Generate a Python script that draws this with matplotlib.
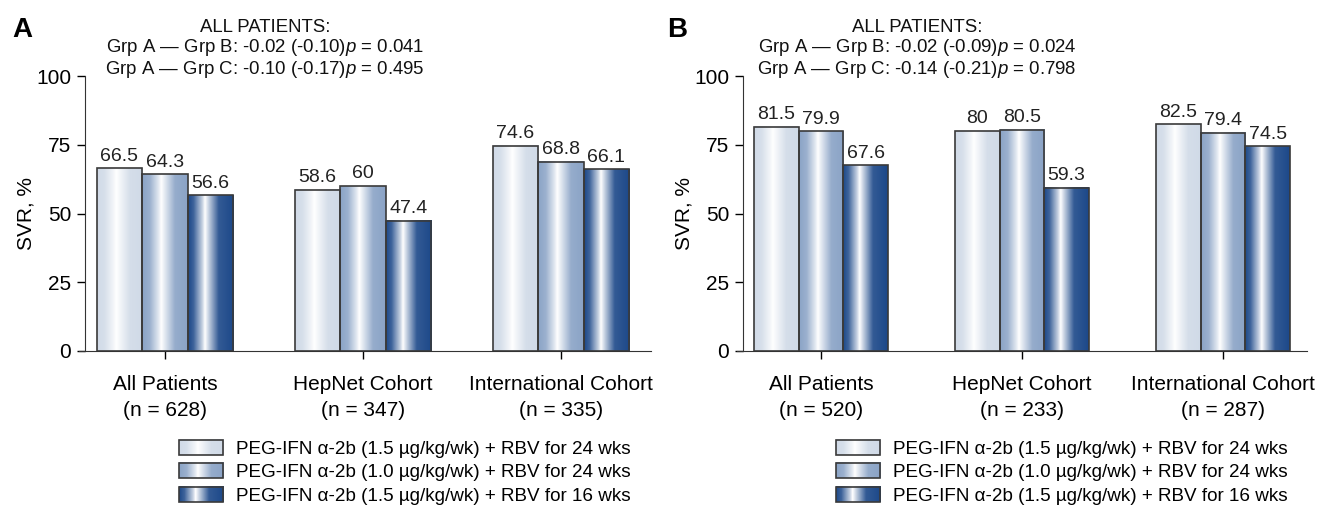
import numpy as np
import matplotlib
matplotlib.use('Agg')
import matplotlib.pyplot as plt
from matplotlib.colors import to_rgb
from matplotlib.legend_handler import HandlerBase
from matplotlib.image import BboxImage
from matplotlib.transforms import Bbox, TransformedBbox
from matplotlib.patches import Rectangle

plt.rcParams['font.family'] = ['Liberation Sans', 'DejaVu Sans']
plt.rcParams['mathtext.fontset'] = 'custom'
plt.rcParams['mathtext.rm'] = 'Liberation Sans'
plt.rcParams['mathtext.it'] = 'Liberation Sans:italic'

# 数据
categories_a = ['All Patients\n(n = 628)', 'HepNet Cohort\n(n = 347)', 'International Cohort\n(n = 335)']
categories_b = ['All Patients\n(n = 520)', 'HepNet Cohort\n(n = 233)', 'International Cohort\n(n = 287)']
grp1_a = [66.5, 58.6, 74.6]
grp2_a = [64.3, 60, 68.8]
grp3_a = [56.6, 47.4, 66.1]
grp1_b = [81.5, 80, 82.5]
grp2_b = [79.9, 80.5, 79.4]
grp3_b = [67.6, 59.3, 74.5]
series_labels = ['PEG-IFN α-2b (1.5 µg/kg/wk) + RBV for 24 wks',
                 'PEG-IFN α-2b (1.0 µg/kg/wk) + RBV for 24 wks',
                 'PEG-IFN α-2b (1.5 µg/kg/wk) + RBV for 16 wks']
notes_a = ['ALL PATIENTS:',
           r'Grp A — Grp B: -0.02 (-0.10)$\it{p}$ = 0.041',
           r'Grp A — Grp C: -0.10 (-0.17)$\it{p}$ = 0.495']
notes_b = ['ALL PATIENTS:',
           r'Grp A — Grp B: -0.02 (-0.09)$\it{p}$ = 0.024',
           r'Grp A — Grp C: -0.14 (-0.21)$\it{p}$ = 0.798']

colors = ['#d0dae7', '#8aa3c6', '#1c4889']
edge = '#3a3a3a'


def gradient(color, peak):
    # 圆柱形高光
    t = np.linspace(0, 1, 200)
    w = np.interp(t, [0, peak - 0.25, peak - 0.06, peak, peak + 0.08, peak + 0.3, 1],
                  [0.0, 0.15, 0.75, 1.0, 0.75, 0.1, 0.0])
    c = np.array(to_rgb(color))
    img = c[None, :] * (1 - w[:, None]) + w[:, None]
    return img[None, :, :]


grads = [gradient(colors[0], 0.42), gradient(colors[1], 0.42), gradient(colors[2], 0.37)]


class GradHandler(HandlerBase):
    def __init__(self, img):
        super().__init__()
        self.img = img

    def create_artists(self, legend, orig_handle, xdescent, ydescent, width, height, fontsize, trans):
        bb = TransformedBbox(Bbox.from_bounds(-xdescent, -ydescent, width, height), trans)
        im = BboxImage(bb, interpolation='bilinear')
        im.set_data(self.img)
        rect = Rectangle((-xdescent, -ydescent), width, height, fill=False, ec=edge, lw=1.2,
                         transform=trans)
        return [im, rect]


fig = plt.figure(figsize=(13.17, 5.07), dpi=100)
W, H = 1317, 507


def panel(left, right, data, cats, notes, letter, letter_x, note_x, leg_x, xl, xr, width):
    ax = fig.add_axes([left / W, 1 - 351 / H, (right - left) / W, (351 - 76) / H])
    x = np.arange(len(cats))
    handles = []
    for i, vals in enumerate(data):
        bars = ax.bar(x + (i - 1) * width, vals, width, facecolor='none', edgecolor=edge,
                      linewidth=1.2, zorder=3)
        for b in bars:
            ax.imshow(grads[i], extent=(b.get_x(), b.get_x() + b.get_width(), 0, b.get_height()),
                      aspect='auto', interpolation='bilinear', zorder=2)
        for xi, v in zip(x + (i - 1) * width, vals):
            ax.text(xi, v + 1.3, '%g' % v, ha='center', va='bottom', fontsize=14, color='#222222')
        handles.append(bars)
    ax.set_xlim(xl, xr)
    ax.set_ylim(0, 100)
    ax.set_yticks([0, 25, 50, 75, 100])
    ax.set_xticks(x)
    ax.set_xticklabels(cats, fontsize=15, linespacing=1.5)
    ax.tick_params(axis='y', labelsize=15, length=6, width=1, direction='out', pad=4)
    ax.tick_params(axis='x', length=6, width=1, direction='out', pad=11)
    for s in ['top', 'right']:
        ax.spines[s].set_visible(False)
    ax.spines['left'].set_color('#333333')
    ax.spines['bottom'].set_color('#333333')
    ax.spines['bottom'].set_bounds(xl - 0.03, xr)
    ax.set_ylabel('SVR, %', fontsize=15, labelpad=0)
    fig.text(letter_x / W, 1 - 30 / H, letter, fontsize=20, fontweight='bold', ha='left', va='center')
    for j, (t, yy) in enumerate(zip(notes, [27, 48, 70])):
        fig.text(note_x / W, 1 - yy / H, t, fontsize=13.4, ha='center', va='center', color='#111111')
    fig.legend(handles, series_labels, loc='upper left', bbox_to_anchor=(leg_x / W, 1 - 440 / H),
               frameon=False, fontsize=13.6, handlelength=2.35, handleheight=0.85, handletextpad=0.65,
               labelspacing=0.28, borderpad=0, borderaxespad=0,
               handler_map={handles[k]: GradHandler(grads[k]) for k in range(3)})
    return ax


panel(85, 651, [grp1_a, grp2_a, grp3_a], categories_a, notes_a, 'A', 12, 265, 179,
      -0.404, 2.455, 0.23)
panel(743, 1307, [grp1_b, grp2_b, grp3_b], categories_b, notes_b, 'B', 667, 917, 836,
      -0.388, 2.418, 0.222)

plt.savefig('out.png', dpi=100)
